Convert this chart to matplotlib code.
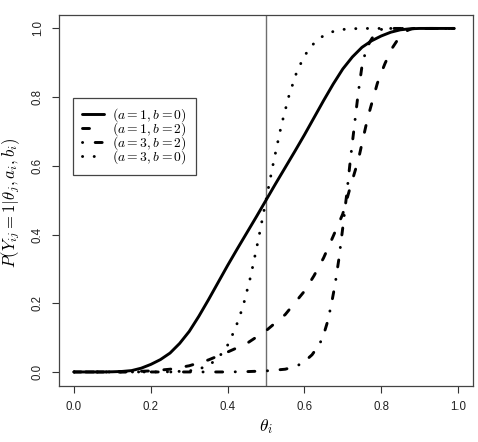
import matplotlib
matplotlib.use("Agg")
import matplotlib.pyplot as plt

plt.rcParams['mathtext.fontset'] = 'cm'
plt.rcParams['font.family'] = ['Liberation Sans', 'DejaVu Sans']

# ---- data ----
theta_1 = [0, 0.025, 0.05, 0.075, 0.1, 0.125, 0.15, 0.175, 0.2, 0.225, 0.25, 0.275,
           0.3, 0.325, 0.35, 0.375, 0.4, 0.425, 0.45, 0.475, 0.5, 0.525, 0.55, 0.575,
           0.6, 0.625, 0.65, 0.675, 0.7, 0.725, 0.75, 0.775, 0.8, 0.825, 0.85, 0.875,
           0.9, 0.95, 0.99]
p_1 = [0, 0, 0, 0, 0.0005, 0.0015, 0.004, 0.011, 0.022, 0.036, 0.055, 0.083,
       0.118, 0.162, 0.21, 0.26, 0.31, 0.358, 0.405, 0.452, 0.5, 0.548, 0.595, 0.642,
       0.69, 0.74, 0.79, 0.838, 0.882, 0.917, 0.945, 0.964, 0.978, 0.989, 0.996, 0.999,
       1.0, 1.0, 1.0]

theta_2 = [0, 0.1, 0.15, 0.2, 0.25, 0.3, 0.35, 0.4, 0.45, 0.5, 0.55, 0.6, 0.625, 0.65,
           0.675, 0.7, 0.72, 0.74, 0.76, 0.77, 0.78, 0.79, 0.8, 0.81, 0.82, 0.83, 0.84,
           0.85, 0.86, 0.87, 0.88, 0.89, 0.9, 0.99]
p_2 = [0, 0, 0.001, 0.003, 0.008, 0.018, 0.035, 0.058, 0.083, 0.12, 0.167, 0.235, 0.28,
       0.332, 0.395, 0.46, 0.54, 0.615, 0.715, 0.76, 0.80, 0.84, 0.87, 0.898, 0.922,
       0.945, 0.962, 0.977, 0.988, 0.995, 0.999, 1.0, 1.0, 1.0]

theta_3 = [0, 0.2, 0.3, 0.4, 0.45, 0.5, 0.55, 0.58, 0.6, 0.62, 0.64, 0.65, 0.66, 0.67,
           0.68, 0.69, 0.7, 0.71, 0.72, 0.73, 0.74, 0.75, 0.76, 0.77, 0.78, 0.79, 0.8,
           0.82, 0.85, 0.99]
p_3 = [0, 0, 0, 0, 0.001, 0.003, 0.008, 0.017, 0.03, 0.05, 0.082, 0.108, 0.145, 0.195,
       0.255, 0.33, 0.42, 0.515, 0.62, 0.715, 0.81, 0.89, 0.935, 0.96, 0.978, 0.99,
       0.997, 1.0, 1.0, 1.0]

theta_4 = [0, 0.1, 0.2, 0.25, 0.3, 0.33, 0.36, 0.38, 0.4, 0.42, 0.44, 0.46, 0.48, 0.5,
           0.52, 0.54, 0.56, 0.58, 0.6, 0.62, 0.64, 0.66, 0.68, 0.7, 0.72, 0.75, 0.8,
           0.9, 0.99]
p_4 = [0, 0, 0, 0.0005, 0.003, 0.01, 0.027, 0.047, 0.078, 0.126, 0.19, 0.278, 0.385,
       0.5, 0.613, 0.718, 0.805, 0.873, 0.92, 0.951, 0.972, 0.985, 0.993, 0.997, 0.999,
       1.0, 1.0, 1.0, 1.0]

labels = [r'$(a=1, b=0)$', r'$(a=1, b=2)$', r'$(a=3, b=2)$', r'$(a=3, b=0)$']
vline_x = 0.5
xticks = [0.0, 0.2, 0.4, 0.6, 0.8, 1.0]
yticks = [0.0, 0.2, 0.4, 0.6, 0.8, 1.0]

# ---- figure ----
W, H = 478, 442
fig = plt.figure(figsize=(W / 100, H / 100), dpi=100)
ax = fig.add_axes([58.7 / W, 1 - 385.7 / H, (473.3 - 58.7) / W, (385.7 - 14.7) / H])

lw = 2.1
ax.axvline(vline_x, color='#6e6e6e', lw=1.0, zorder=1)
ax.plot(theta_1, p_1, color='black', lw=lw, solid_capstyle='round',
        solid_joinstyle='round', label=labels[0])
ax.plot(theta_2, p_2, color='black', lw=lw, linestyle=(0, (2.4, 5.3)),
        dash_capstyle='round', label=labels[1])
ax.plot(theta_3, p_3, color='black', lw=lw, linestyle=(0, (0.05, 4.3, 2.4, 4.3)),
        dash_capstyle='round', label=labels[2])
ax.plot(theta_4, p_4, color='black', lw=lw, linestyle=(0, (0.05, 3.95)),
        dash_capstyle='round', label=labels[3])

ax.set_xlim(-0.04, 1.04)
ax.set_ylim(-0.04, 1.04)
ax.set_xticks(xticks)
ax.set_yticks(yticks)
ax.set_xticklabels([f'{v:.1f}' for v in xticks])
ax.set_yticklabels([f'{v:.1f}' for v in yticks])
ax.tick_params(axis='both', length=5, width=0.8, color='#333333',
               labelsize=8.3, labelcolor='#222222', pad=5.8)
for lab in ax.get_yticklabels():
    lab.set_rotation(90)
    lab.set_va('center')
    lab.set_ha('right')
for sp in ax.spines.values():
    sp.set_color('#444444')
    sp.set_linewidth(0.9)

ax.set_xlabel(r'$\theta_i$', fontsize=12.5)
ax.xaxis.set_label_coords(0.5, -(427 - 385.7) / (385.7 - 14.7), transform=ax.transAxes)
ax.xaxis.label.set_va('center')
ax.set_ylabel(r'$P(Y_{ij}=1|\theta_j, a_i, b_i)$', fontsize=12)
ax.yaxis.set_label_coords(-(58.7 - 10.5) / (473.3 - 58.7), 0.494, transform=ax.transAxes)
ax.yaxis.label.set_va('center')

leg = ax.legend(loc='upper left',
                bbox_to_anchor=((73.3 - 58.7) / 414.6, 1 - (97.7 - 14.7) / 371.0),
                fontsize=9.8, frameon=True, fancybox=False, framealpha=1,
                edgecolor='#444444', handlelength=1.65, handletextpad=0.6,
                borderpad=0.62, labelspacing=-0.27, borderaxespad=0)
leg.get_frame().set_linewidth(0.9)

fig.savefig('out.png', dpi=100)
